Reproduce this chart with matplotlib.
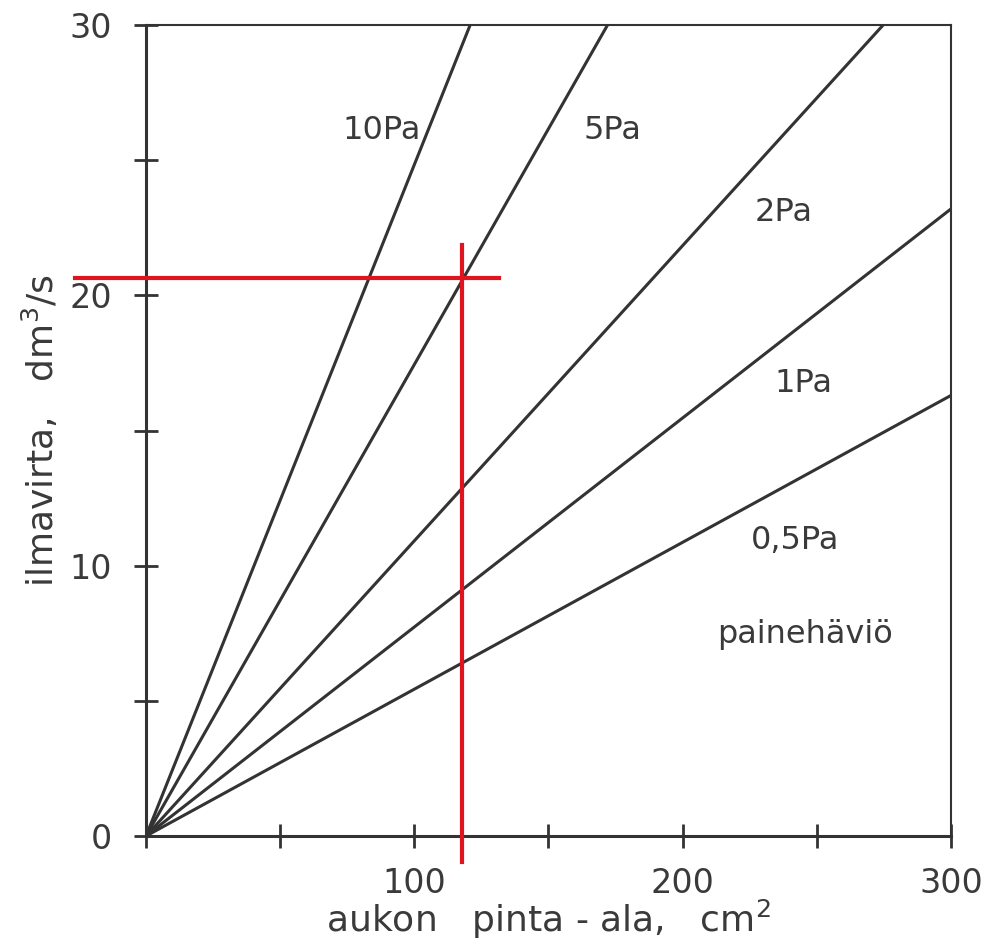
import matplotlib
matplotlib.use("Agg")
import matplotlib.pyplot as plt
from matplotlib.ticker import MultipleLocator, FixedLocator

# Data: straight lines from origin, end points
labels = ["10Pa", "5Pa", "2Pa", "1Pa", "0,5Pa"]
end_x = [120.8, 172.0, 274.7, 300.0, 300.0]
end_y = [30.0, 30.0, 30.0, 23.2, 16.3]
label_x = [88.0, 174.0, 237.5, 245.0, 242.0]
label_y = [26.1, 26.1, 23.05, 16.75, 10.95]

# red reading guide
red_h_x = [-26.5, 131.5]
red_h_y = [20.63, 20.63]
red_v_x = [117.7, 117.7]
red_v_y = [-0.95, 21.85]

x_major = [0, 100, 200, 300]
x_major_labels = ["", "100", "200", "300"]
y_major = [0, 10, 20, 30]
y_major_labels = ["0", "10", "20", "30"]

plt.rcParams['font.family'] = ['DejaVu Sans']
ink = "#333333"
txt = "#3a3a3a"

fig = plt.figure(figsize=(9.93, 9.49), dpi=100)
ax = fig.add_axes([0.147, 0.119, 0.8107, 0.8546])
ax.set_xlim(0, 300)
ax.set_ylim(0, 30)

for ex, ey in zip(end_x, end_y):
    ax.plot([0, ex], [0, ey], color=ink, lw=2.2, solid_capstyle='butt')

for lab, lx, ly in zip(labels, label_x, label_y):
    ax.text(lx, ly, lab, ha='center', va='center', fontsize=23, color=txt)
ax.text(245.6, 7.44, "painehäviö", ha='center', va='center', fontsize=23, color=txt)

ax.plot(red_h_x, red_h_y, color="#e0141e", lw=3, clip_on=False, zorder=5)
ax.plot(red_v_x, red_v_y, color="#e0141e", lw=3, clip_on=False, zorder=5)

for s in ['left', 'bottom']:
    ax.spines[s].set_linewidth(2.2)
    ax.spines[s].set_color(ink)
for s in ['top', 'right']:
    ax.spines[s].set_linewidth(1.5)
    ax.spines[s].set_color(ink)

ax.xaxis.set_major_locator(FixedLocator(x_major))
ax.set_xticklabels(x_major_labels)
ax.xaxis.set_minor_locator(MultipleLocator(50))
ax.yaxis.set_major_locator(FixedLocator(y_major))
ax.set_yticklabels(y_major_labels)
ax.yaxis.set_minor_locator(MultipleLocator(5))

ax.tick_params(which='both', direction='inout', length=17, width=2, color=ink,
               labelsize=24, labelcolor=txt)
ax.tick_params(axis='x', which='both', pad=14)
ax.tick_params(axis='y', which='both', pad=16)

ax.set_xlabel("aukon   pinta - ala,   cm$^2$", fontsize=26, color=txt, labelpad=-2)
ax.set_ylabel("ilmavirta,   dm$^3$/s", fontsize=26, color=txt, labelpad=6)

fig.savefig("out.png", dpi=100, facecolor='white')
